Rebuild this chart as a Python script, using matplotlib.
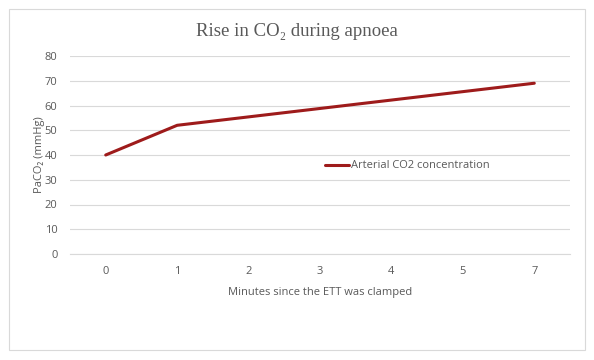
import matplotlib.pyplot as plt
from matplotlib.patches import Rectangle

# data
minutos = ["0", "1", "2", "3", "4", "5", "7"]
paco2 = [40, 52, 55.4, 58.8, 62.2, 65.6, 69]

cinza_texto = "#595959"
cinza_grade = "#d9d9d9"
vermelho = "#9e1b1b"

fig = plt.figure(figsize=(5.94, 3.6), dpi=100)
fig.patches.append(Rectangle((9 / 594, 10 / 360), 576 / 594, 341 / 360,
                             transform=fig.transFigure, fill=False,
                             edgecolor=cinza_grade, linewidth=0.8))

ax = fig.add_axes([70 / 594, 1 - 254 / 360, 500 / 594, 198 / 360])
x = range(len(minutos))
ax.plot(x, paco2, color=vermelho, linewidth=2.2, solid_capstyle="round",
        label="Arterial CO2 concentration")

ax.set_xlim(-0.5, len(minutos) - 0.5)
ax.set_ylim(0, 80)
ax.set_yticks(range(0, 81, 10))
ax.set_xticks(list(x))
ax.set_xticklabels(minutos)
ax.grid(True, axis="y", color=cinza_grade, linewidth=0.8)
ax.set_axisbelow(True)
for lado in ["top", "right", "left"]:
    ax.spines[lado].set_visible(False)
ax.spines["bottom"].set_color(cinza_grade)
ax.spines["bottom"].set_linewidth(0.8)
ax.tick_params(length=0, labelsize=8, labelcolor=cinza_texto)
ax.tick_params(axis="x", pad=9)
ax.tick_params(axis="y", pad=9)
for t in ax.get_xticklabels() + ax.get_yticklabels():
    t.set_family("Open Sans")

ax.set_xlabel("Minutes since the ETT was clamped", fontsize=8,
              color=cinza_texto, family="Open Sans", labelpad=7)
ax.set_ylabel("PaCO₂ (mmHg)", fontsize=8, color=cinza_texto,
              family=["Open Sans", "DejaVu Sans"], labelpad=0)

fig.text(297 / 594, 1 - 31 / 360, "Rise in CO₂ during apnoea",
         ha="center", va="center", fontsize=13.5, color=cinza_texto,
         family=["Liberation Serif", "DejaVu Serif"])

ax.legend(loc="center left", bbox_to_anchor=(0.49, 0.445), frameon=False,
          prop={"family": "Open Sans", "size": 8}, labelcolor=cinza_texto,
          handlelength=2.2, handletextpad=0.1)

fig.savefig("out.png", dpi=100)
